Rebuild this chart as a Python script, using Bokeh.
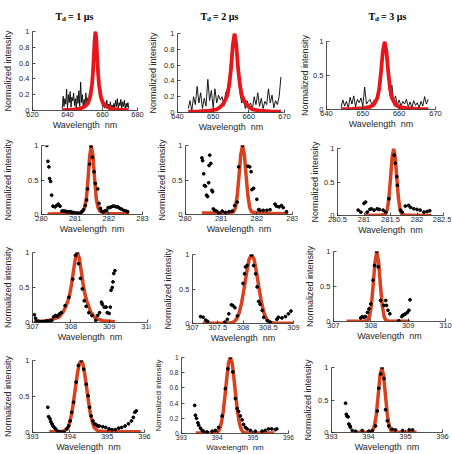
import numpy as np
from bokeh.plotting import figure
from bokeh.models import Range1d, FixedTicker, CustomJSTickFormatter
from bokeh.core.properties import value
from bokeh.embed import file_html
from bokeh.resources import INLINE

# ---------------- H-alpha spectra (black traces, 0.5 nm sampling) ----------------
ha1_start, ha1_step = 637.0, 0.5
ha1_int = [0.02, 0.18, 0.05, 0.15, 0.08, 0.27, 0.03, 0.20, 0.10, 0.24,
           0.04, 0.17, 0.12, 0.22, 0.06, 0.15, 0.02, 0.19, 0.09, 0.25,
           0.05, 0.36, 0.10, 0.20, 0.03, 0.14, 0.07, 0.22, 0.10, 0.16,
           0.12, 0.20, 0.18, 0.30, 0.33, 0.50, 0.68, 0.90, 1.00, 0.86,
           0.64, 0.45, 0.30, 0.20, 0.12, 0.15, 0.05, 0.12, 0.03, 0.10,
           0.06, 0.13, 0.02, 0.08, 0.04, 0.11, 0.03, 0.07, 0.01, 0.09,
           0.04, 0.13, 0.05, 0.15, 0.02, 0.10, 0.06, 0.14, 0.03, 0.11,
           0.05, 0.13, 0.02, 0.09, 0.04, 0.10, 0.03]
ha2_start, ha2_step = 643.0, 0.5
ha2_int = [0.05, 0.15, 0.02, 0.20, 0.10, 0.33, 0.12, 0.25, 0.05, 0.18,
           0.08, 0.42, 0.15, 0.28, 0.06, 0.30, 0.12, 0.22, 0.16, 0.20,
           0.08, 0.25, 0.30, 0.45, 0.70, 0.93, 1.00, 0.80, 0.50, 0.25,
           0.12, 0.18, 0.05, 0.15, 0.08, 0.12, 0.04, 0.20, 0.10, 0.25,
           0.08, 0.18, 0.05, 0.14, 0.10, 0.30, 0.12, 0.22, 0.06, 0.15,
           0.10, 0.20, 0.45]
ha3_start, ha3_step = 644.0, 0.5
ha3_int = [0.03, 0.14, 0.05, 0.12, 0.02, 0.18, 0.08, 0.20, 0.04, 0.15,
           0.10, 0.17, 0.05, 0.33, 0.08, 0.12, 0.15, 0.06, 0.13, 0.10,
           0.18, 0.30, 0.55, 0.88, 1.00, 0.80, 0.45, 0.20, 0.36, 0.10,
           0.20, 0.06, 0.14, 0.05, 0.12, 0.08, 0.15, 0.04, 0.11, 0.03,
           0.13, 0.06, 0.10, 0.02, 0.12, 0.05, 0.19, 0.08, 0.15]

# H-alpha fitted profiles
ha1_fit_wl = [637, 640, 643, 646, 648, 650, 651, 652, 653, 654, 654.5, 655, 655.5, 656,
              656.5, 657, 657.5, 658, 659, 660, 661, 662, 664, 666, 669, 672, 675]
ha1_fit = [0.005, 0.008, 0.011, 0.019, 0.030, 0.052, 0.073, 0.109, 0.179, 0.329, 0.466,
           0.662, 0.887, 1.0, 0.887, 0.662, 0.466, 0.329, 0.179, 0.109, 0.073, 0.052,
           0.030, 0.019, 0.011, 0.008, 0.006]
ha2_fit_wl = [643, 646, 649, 651, 652, 653, 654, 654.5, 655, 655.5, 656, 656.5, 657,
              657.5, 658, 659, 660, 661, 663, 666, 669]
ha2_fit = [0.01, 0.015, 0.025, 0.04, 0.07, 0.12, 0.22, 0.35, 0.55, 0.85, 1.0, 0.85, 0.55,
           0.35, 0.22, 0.12, 0.07, 0.04, 0.025, 0.015, 0.01]
ha3_fit_wl = [644, 647, 650, 652, 653, 654, 654.5, 655, 655.5, 656, 656.5, 657, 657.5,
              658, 659, 660, 662, 665, 668]
ha3_fit = [0.005, 0.01, 0.02, 0.04, 0.07, 0.17, 0.30, 0.55, 0.85, 1.0, 0.85, 0.55, 0.30,
           0.17, 0.07, 0.04, 0.02, 0.01, 0.005]

# ---------------- 281 nm line ----------------
l281a_wl = [280.16, 280.19, 280.22, 280.24, 280.27, 280.30, 280.34, 280.40, 280.45, 280.50,
            280.55, 280.61, 280.66, 280.71, 280.76, 280.81, 280.86, 280.90, 280.95, 281.02,
            281.07, 281.12, 281.16, 281.20, 281.25, 281.30, 281.34, 281.37, 281.43, 281.47,
            281.51, 281.56, 281.60, 281.67, 281.71, 281.75, 281.78, 281.83, 281.88, 281.93,
            281.98, 282.03, 282.07, 282.12, 282.17, 282.22, 282.27, 282.32, 282.37, 282.44,
            282.51, 282.56]
l281a_int = [1.00, 0.77, 0.69, 0.52, 0.48, 0.28, 0.12, 0.11, 0.13, 0.15,
             0.12, 0.05, 0.05, 0.05, 0.04, 0.04, 0.04, 0.03, 0.03, 0.02,
             0.02, 0.01, 0.02, 0.04, 0.07, 0.13, 0.21, 0.37, 0.73, 0.99,
             0.83, 0.62, 0.45, 0.37, 0.16, 0.09, 0.05, 0.04, 0.05, 0.06,
             0.10, 0.10, 0.11, 0.12, 0.12, 0.11, 0.11, 0.09, 0.08, 0.06,
             0.05, 0.04]
l281a_fit_wl = [280.18, 280.60, 281.00, 281.15, 281.23, 281.28, 281.33, 281.38, 281.43, 281.48,
                281.53, 281.58, 281.63, 281.68, 281.73, 281.83, 282.00, 282.30, 282.60]
l281a_fit = [0.008, 0.010, 0.015, 0.025, 0.05, 0.10, 0.22, 0.50, 0.84, 1.00,
             0.84, 0.50, 0.22, 0.10, 0.05, 0.025, 0.015, 0.010, 0.008]

l281b_wl = [280.46, 280.48, 280.51, 280.53, 280.56, 280.59, 280.62, 280.65, 280.66, 280.68,
            280.71, 280.74, 280.76, 280.78, 280.82, 280.87, 280.94, 281.03, 281.12, 281.22,
            281.31, 281.38, 281.45, 281.49, 281.60, 281.75, 281.80, 281.84, 281.86, 281.91,
            282.00, 282.05, 282.09, 282.18, 282.28, 282.37, 282.51, 282.55, 282.62, 282.69,
            282.74, 282.83]
l281b_int = [0.82, 0.78, 0.59, 0.42, 0.41, 0.28, 0.26, 0.46, 0.71, 0.86,
             0.74, 0.35, 0.33, 0.08, 0.06, 0.05, 0.02, 0.05, 0.03, 0.04,
             0.05, 0.13, 0.18, 0.69, 1.00, 0.70, 0.69, 0.62, 0.36, 0.38,
             0.22, 0.07, 0.06, 0.06, 0.06, 0.07, 0.15, 0.12, 0.11, 0.13,
             0.10, 0.04]
l281b_fit_wl = [280.46, 280.90, 281.20, 281.35, 281.40, 281.45, 281.50, 281.55, 281.60,
                281.65, 281.70, 281.75, 281.80, 281.85, 282.00, 282.40, 282.88]
l281b_fit = [0.02, 0.02, 0.025, 0.04, 0.10, 0.27, 0.56, 0.87, 1.00,
             0.87, 0.56, 0.27, 0.10, 0.04, 0.02, 0.015, 0.012]

l281c_wl = [280.89, 280.94, 281.00, 281.03, 281.06, 281.11, 281.14, 281.19, 281.25, 281.29,
            281.36, 281.41, 281.47, 281.57, 281.59, 281.62, 281.63, 281.69, 281.72, 281.78,
            281.84, 281.88, 281.94, 282.00, 282.06, 282.13, 282.19, 282.24]
l281c_int = [0.08, 0.05, 0.18, 0.20, 0.05, 0.09, 0.10, 0.08, 0.10, 0.09,
             0.08, 0.05, 0.25, 0.90, 0.78, 0.58, 0.45, 0.08, 0.05, 0.14,
             0.15, 0.12, 0.10, 0.09, 0.08, 0.05, 0.06, 0.07]
l281c_fit_wl = [281.00, 281.30, 281.41, 281.44, 281.47, 281.50, 281.53, 281.56, 281.59,
                281.62, 281.65, 281.68, 281.71, 281.80, 282.27]
l281c_fit = [0.0, 0.002, 0.024, 0.09, 0.26, 0.55, 0.86, 1.0, 0.86,
             0.55, 0.26, 0.09, 0.024, 0.002, 0.0]

# ---------------- 308 nm line ----------------
l308a_wl = [307.05, 307.08, 307.10, 307.15, 307.20, 307.25, 307.30, 307.35, 307.40, 307.45,
            307.50, 307.55, 307.60, 307.65, 307.70, 307.75, 307.85, 307.95, 308.05, 308.12,
            308.17, 308.20, 308.25, 308.30, 308.35, 308.40, 308.47, 308.55, 308.65, 308.70,
            308.75, 308.80, 308.82, 308.87, 308.92, 308.95, 309.00, 309.03, 309.05, 309.08,
            309.10, 309.12, 309.15]
l308a_int = [0.11, 0.06, 0.02, 0.02, 0.01, 0.01, 0.01, 0.02, 0.02, 0.02,
             0.03, 0.08, 0.10, 0.09, 0.12, 0.14, 0.24, 0.36, 0.62, 0.96,
             1.00, 0.84, 0.63, 0.48, 0.31, 0.23, 0.14, 0.10, 0.03, 0.10,
             0.14, 0.29, 0.26, 0.22, 0.22, 0.14, 0.13, 0.22, 0.46, 0.50,
             0.58, 0.70, 0.74]
l308a_fit_wl = [307.05, 307.30, 307.50, 307.70, 307.82, 307.92, 307.97, 308.02, 308.07, 308.12,
                308.17, 308.22, 308.27, 308.32, 308.37, 308.42, 308.52, 308.64, 308.84, 309.15]
l308a_fit = [0.01, 0.02, 0.04, 0.08, 0.17, 0.30, 0.40, 0.55, 0.74, 0.92,
             1.00, 0.92, 0.74, 0.55, 0.40, 0.30, 0.15, 0.06, 0.025, 0.01]

l308b_wl = [307.16, 307.21, 307.26, 307.30, 307.64, 307.69, 307.72, 307.77, 307.80, 307.84,
            307.89, 308.00, 308.03, 308.05, 308.08, 308.17, 308.21, 308.25, 308.28, 308.31,
            308.34, 308.38, 308.41, 308.48, 308.54, 308.67, 308.70, 308.77, 308.84, 308.90,
            308.95]
l308b_int = [0.10, 0.09, 0.05, 0.03, 0.02, 0.06, 0.14, 0.27, 0.26, 0.23,
             0.11, 0.58, 0.72, 0.82, 0.84, 0.99, 0.84, 0.72, 0.53, 0.32,
             0.28, 0.19, 0.09, 0.04, 0.02, 0.06, 0.09, 0.08, 0.10, 0.14,
             0.18]
l308b_fit_wl = [307.20, 307.70, 307.80, 307.87, 307.92, 307.97, 308.02, 308.07, 308.12, 308.17,
                308.22, 308.27, 308.32, 308.37, 308.42, 308.47, 308.54, 308.65, 309.00]
l308b_fit = [0.005, 0.005, 0.015, 0.06, 0.145, 0.29, 0.50, 0.73, 0.93, 1.00,
             0.93, 0.73, 0.50, 0.29, 0.145, 0.06, 0.015, 0.005, 0.005]

l308c_wl = [307.73, 307.77, 307.82, 307.86, 307.91, 307.95, 308.00, 308.06, 308.10, 308.16,
            308.20, 308.26, 308.35, 308.40, 308.42, 308.46, 308.51, 308.75, 308.83, 308.86,
            308.90, 308.93, 308.98, 309.02, 309.05]
l308c_int = [0.05, 0.07, 0.06, 0.07, 0.13, 0.18, 0.25, 0.59, 0.80, 1.00,
             0.78, 0.30, 0.23, 0.30, 0.23, 0.16, 0.11, 0.01, 0.07, 0.09,
             0.10, 0.11, 0.13, 0.16, 0.31]
l308c_fit_wl = [307.35, 307.80, 307.91, 307.96, 308.01, 308.06, 308.11, 308.16, 308.21,
                308.26, 308.31, 308.36, 308.41, 308.50, 309.05]
l308c_fit = [0.002, 0.002, 0.013, 0.063, 0.21, 0.50, 0.84, 1.00, 0.84,
             0.50, 0.21, 0.063, 0.013, 0.003, 0.002]

# ---------------- 394 nm line ----------------
l394a_wl = [393.41, 393.43, 393.47, 393.49, 393.52, 393.55, 393.58, 393.62, 393.67, 393.75,
            393.84, 393.92, 393.97, 394.01, 394.05, 394.10, 394.17, 394.23, 394.31, 394.37,
            394.44, 394.49, 394.53, 394.57, 394.62, 394.66, 394.70, 394.75, 394.79, 394.88,
            394.96, 395.05, 395.13, 395.22, 395.31, 395.39, 395.48, 395.57, 395.65, 395.70,
            395.74, 395.78]
l394a_int = [0.35, 0.22, 0.19, 0.15, 0.12, 0.09, 0.07, 0.05, 0.02, 0.01,
             0.01, 0.05, 0.09, 0.16, 0.28, 0.42, 0.70, 0.93, 1.00, 0.88,
             0.67, 0.51, 0.35, 0.23, 0.16, 0.12, 0.11, 0.09, 0.09, 0.08,
             0.07, 0.05, 0.04, 0.04, 0.06, 0.07, 0.09, 0.12, 0.16, 0.21,
             0.28, 0.30]
l394a_fit_wl = [393.45, 393.70, 393.85, 393.95, 394.00, 394.05, 394.10, 394.15, 394.20, 394.25,
                394.30, 394.35, 394.40, 394.45, 394.50, 394.55, 394.60, 394.65, 394.75, 395.00,
                395.90]
l394a_fit = [0.01, 0.012, 0.02, 0.07, 0.15, 0.26, 0.43, 0.62, 0.81, 0.95,
             1.00, 0.95, 0.81, 0.62, 0.43, 0.26, 0.15, 0.07, 0.02, 0.012,
             0.01]

l394b_wl = [393.37, 393.39, 393.42, 393.46, 393.48, 393.53, 393.58, 393.62, 393.72, 393.86,
            393.95, 394.04, 394.14, 394.23, 394.30, 394.37, 394.44, 394.51, 394.56, 394.60,
            394.65, 394.70, 394.74, 394.79, 394.84, 394.93, 395.07, 395.26, 395.35, 395.44,
            395.53, 395.63, 395.67]
l394b_int = [0.37, 0.24, 0.20, 0.14, 0.11, 0.07, 0.04, 0.03, 0.02, 0.03,
             0.04, 0.08, 0.23, 0.59, 0.85, 1.00, 0.81, 0.46, 0.33, 0.29,
             0.23, 0.18, 0.12, 0.08, 0.06, 0.04, 0.03, 0.03, 0.04, 0.06,
             0.06, 0.05, 0.06]
l394b_fit_wl = [393.40, 393.80, 393.92, 394.02, 394.07, 394.12, 394.17, 394.22, 394.27, 394.32,
                394.37, 394.42, 394.47, 394.52, 394.57, 394.62, 394.67, 394.72, 394.82, 395.60]
l394b_fit = [0.005, 0.005, 0.008, 0.02, 0.06, 0.145, 0.29, 0.50, 0.73, 0.93,
             1.00, 0.93, 0.73, 0.50, 0.29, 0.145, 0.06, 0.02, 0.005, 0.005]

l394c_wl = [393.38, 393.40, 393.42, 393.45, 393.47, 393.50, 393.51, 393.56, 393.65, 393.83,
            394.01, 394.10, 394.19, 394.24, 394.28, 394.33, 394.37, 394.42, 394.46, 394.51,
            394.55, 394.64, 394.73, 394.92, 395.10, 395.19]
l394c_int = [0.45, 0.28, 0.25, 0.24, 0.13, 0.10, 0.08, 0.03, 0.02, 0.03,
             0.02, 0.03, 0.10, 0.33, 0.68, 0.90, 1.00, 0.83, 0.35, 0.18,
             0.10, 0.05, 0.04, 0.03, 0.04, 0.04]
l394c_fit_wl = [393.60, 393.95, 394.06, 394.11, 394.16, 394.21, 394.26, 394.31, 394.36,
                394.41, 394.46, 394.51, 394.56, 394.61, 394.66, 394.80, 395.30]
l394c_fit = [0.003, 0.003, 0.006, 0.027, 0.10, 0.27, 0.56, 0.87, 1.00,
             0.87, 0.56, 0.27, 0.10, 0.027, 0.006, 0.003, 0.003]

# axis ticks
ticks_ha1 = [620, 640, 660, 680]
ticks_ha23 = [640, 650, 660, 670]
ticks_281 = [280, 281, 282, 283]
ticks_281c = [280.5, 281, 281.5, 282, 282.5]
ticks_308 = [307, 308, 309, 310]
ticks_308b = [307, 307.5, 308, 308.5, 309]
ticks_394 = [393, 394, 395, 396]
y_fine = [0, 0.2, 0.4, 0.6, 0.8, 1]
y_coarse = [0, 0.5, 1]
delays = ["1", "2", "3"]

RED_HA = "#e8151b"
RED = "#d8421f"
AXC = "#262626"
SANS = "Liberation Sans"
SERIF = "Liberation Serif"
X_LABEL = "Wavelength\u00a0 nm"

# every panel is its own root, placed at an absolute page position
placement = {}
roots = []


def panel(name, frame, left, x_lim, x_ticks, y_ticks, ylab_gap=3,
          tick_px=7.5, label_px=9.0, top=9, bottom=26, right=8):
    x0, y0, x1, y1 = frame
    p = figure(width=(x1 - x0) + left + right, height=(y1 - y0) + top + bottom,
               x_range=Range1d(*x_lim), y_range=Range1d(0, 1),
               output_backend="svg", toolbar_location=None, name=name,
               min_border_left=left, min_border_right=right,
               min_border_top=top, min_border_bottom=bottom,
               x_axis_label=X_LABEL, y_axis_label="Normalized intensity")
    p.outline_line_color = None
    p.background_fill_color = "white"
    p.border_fill_color = "white"
    p.grid.visible = False
    p.xaxis.ticker = FixedTicker(ticks=x_ticks)
    p.yaxis.ticker = FixedTicker(ticks=y_ticks)
    for ax in list(p.xaxis) + list(p.yaxis):
        ax.formatter = CustomJSTickFormatter(code="return String(+tick.toFixed(3));")
        ax.axis_line_color = AXC
        ax.axis_line_width = 0.8
        ax.major_tick_line_color = AXC
        ax.major_tick_line_width = 0.8
        ax.major_tick_in = 3
        ax.major_tick_out = 0
        ax.minor_tick_line_color = None
        ax.major_label_text_font = SANS
        ax.major_label_text_font_size = f"{tick_px}px"
        ax.major_label_text_color = AXC
        ax.axis_label_text_font = SANS
        ax.axis_label_text_font_size = f"{label_px}px"
        ax.axis_label_text_font_style = "normal"
        ax.axis_label_text_color = AXC
    p.xaxis.major_label_standoff = 1
    p.xaxis.axis_label_standoff = 0
    p.yaxis.major_label_standoff = 3
    p.yaxis.axis_label_standoff = ylab_gap
    placement[name] = (x0 - left, y0 - top)
    roots.append(p)
    return p


def spectrum(p, start, step, values, fit_wl, fit):
    wl = start + step * np.arange(len(values))
    p.line(wl, values, line_color="black", line_width=0.9)
    p.line(fit_wl, fit, line_color=RED_HA, line_width=3.8, line_join="round")


def dots(p, wl, values, fit_wl, fit):
    p.line(fit_wl, fit, line_color=RED, line_width=3.5, line_join="round")
    p.scatter(wl, values, size=2.8, color="black", marker="circle")


# column headings: gate delay, T with subscript d
heads = figure(width=452, height=22, x_range=Range1d(0, 452), y_range=Range1d(0, 22),
               output_backend="svg", toolbar_location=None, name="heads",
               x_axis_type=None, y_axis_type=None, min_border=0)
heads.outline_line_color = None
heads.grid.visible = False
head_x = [55, 200, 368]
bold = dict(text_font=value(SERIF), text_font_style="bold", text_color="black",
            text_baseline="alphabetic", text_align="left")
heads.text(x=head_x, y=[6] * 3, text=["T"] * 3, text_font_size="10px", **bold)
heads.text(x=[v + 6.6 for v in head_x], y=[3.5] * 3, text=["d"] * 3, text_font_size="7px", **bold)
heads.text(x=[v + 12.5 for v in head_x], y=[6] * 3,
           text=[f"= {d} \u00b5s" for d in delays], text_font_size="10px", **bold)
placement["heads"] = (0, 0)
roots.append(heads)

# row 1: H-alpha at three delays
p1 = panel("p1", (31, 31, 137, 110), 31, (620, 680), ticks_ha1, y_fine)
spectrum(p1, ha1_start, ha1_step, ha1_int, ha1_fit_wl, ha1_fit)
p2 = panel("p2", (176, 33, 284, 112), 31, (640, 670), ticks_ha23, y_fine)
spectrum(p2, ha2_start, ha2_step, ha2_int, ha2_fit_wl, ha2_fit)
p3 = panel("p3", (326, 41, 435, 109), 31, (640, 670), ticks_ha23, y_coarse, ylab_gap=0)
spectrum(p3, ha3_start, ha3_step, ha3_int, ha3_fit_wl, ha3_fit)

# row 2: 281 nm
p4 = panel("p4", (39, 145, 142, 214), 39, (280, 283), ticks_281, y_coarse, ylab_gap=12)
dots(p4, l281a_wl, l281a_int, l281a_fit_wl, l281a_fit)
p5 = panel("p5", (185, 145, 292, 214), 35, (280, 283), ticks_281, y_coarse, ylab_gap=2)
dots(p5, l281b_wl, l281b_int, l281b_fit_wl, l281b_fit)
p6 = panel("p6", (337, 148, 443, 215), 40, (280.5, 282.5), ticks_281c, y_coarse, ylab_gap=1)
dots(p6, l281c_wl, l281c_int, l281c_fit_wl, l281c_fit)

# row 3: 308 nm
p7 = panel("p7", (31, 252, 147, 322), 31, (307, 310), ticks_308, y_coarse)
dots(p7, l308a_wl, l308a_int, l308a_fit_wl, l308a_fit)
p8 = panel("p8", (192, 254, 293, 323), 42, (307, 309), ticks_308b, y_coarse)
dots(p8, l308b_wl, l308b_int, l308b_fit_wl, l308b_fit)
p9 = panel("p9", (333, 251, 445, 321), 34, (307, 310), ticks_308, y_coarse, ylab_gap=2)
dots(p9, l308c_wl, l308c_int, l308c_fit_wl, l308c_fit)

# row 4: 394 nm
p10 = panel("p10", (31, 360, 144, 432), 31, (393, 396), ticks_394, y_coarse, bottom=22)
dots(p10, l394a_wl, l394a_int, l394a_fit_wl, l394a_fit)
p11 = panel("p11", (181, 357, 288, 434), 31, (393, 396), ticks_394, y_fine,
            tick_px=6.5, label_px=8.0, bottom=20)
dots(p11, l394b_wl, l394b_int, l394b_fit_wl, l394b_fit)
p12 = panel("p12", (331, 367, 442, 433), 31, (393, 396), ticks_394, y_coarse,
            ylab_gap=2, bottom=21)
dots(p12, l394c_wl, l394c_int, l394c_fit_wl, l394c_fit)

PAGE = """
{% block contents %}
{% for doc in docs %}
{% for root in doc.roots %}
<div style="position:absolute; left:{{ placement[root.name][0] }}px; top:{{ placement[root.name][1] }}px;">
{{ embed(root) }}
</div>
{% endfor %}
{% endfor %}
{% endblock %}
"""

open("out.html", "w").write(file_html(roots, INLINE, template=PAGE,
                                      template_variables={"placement": placement}))
